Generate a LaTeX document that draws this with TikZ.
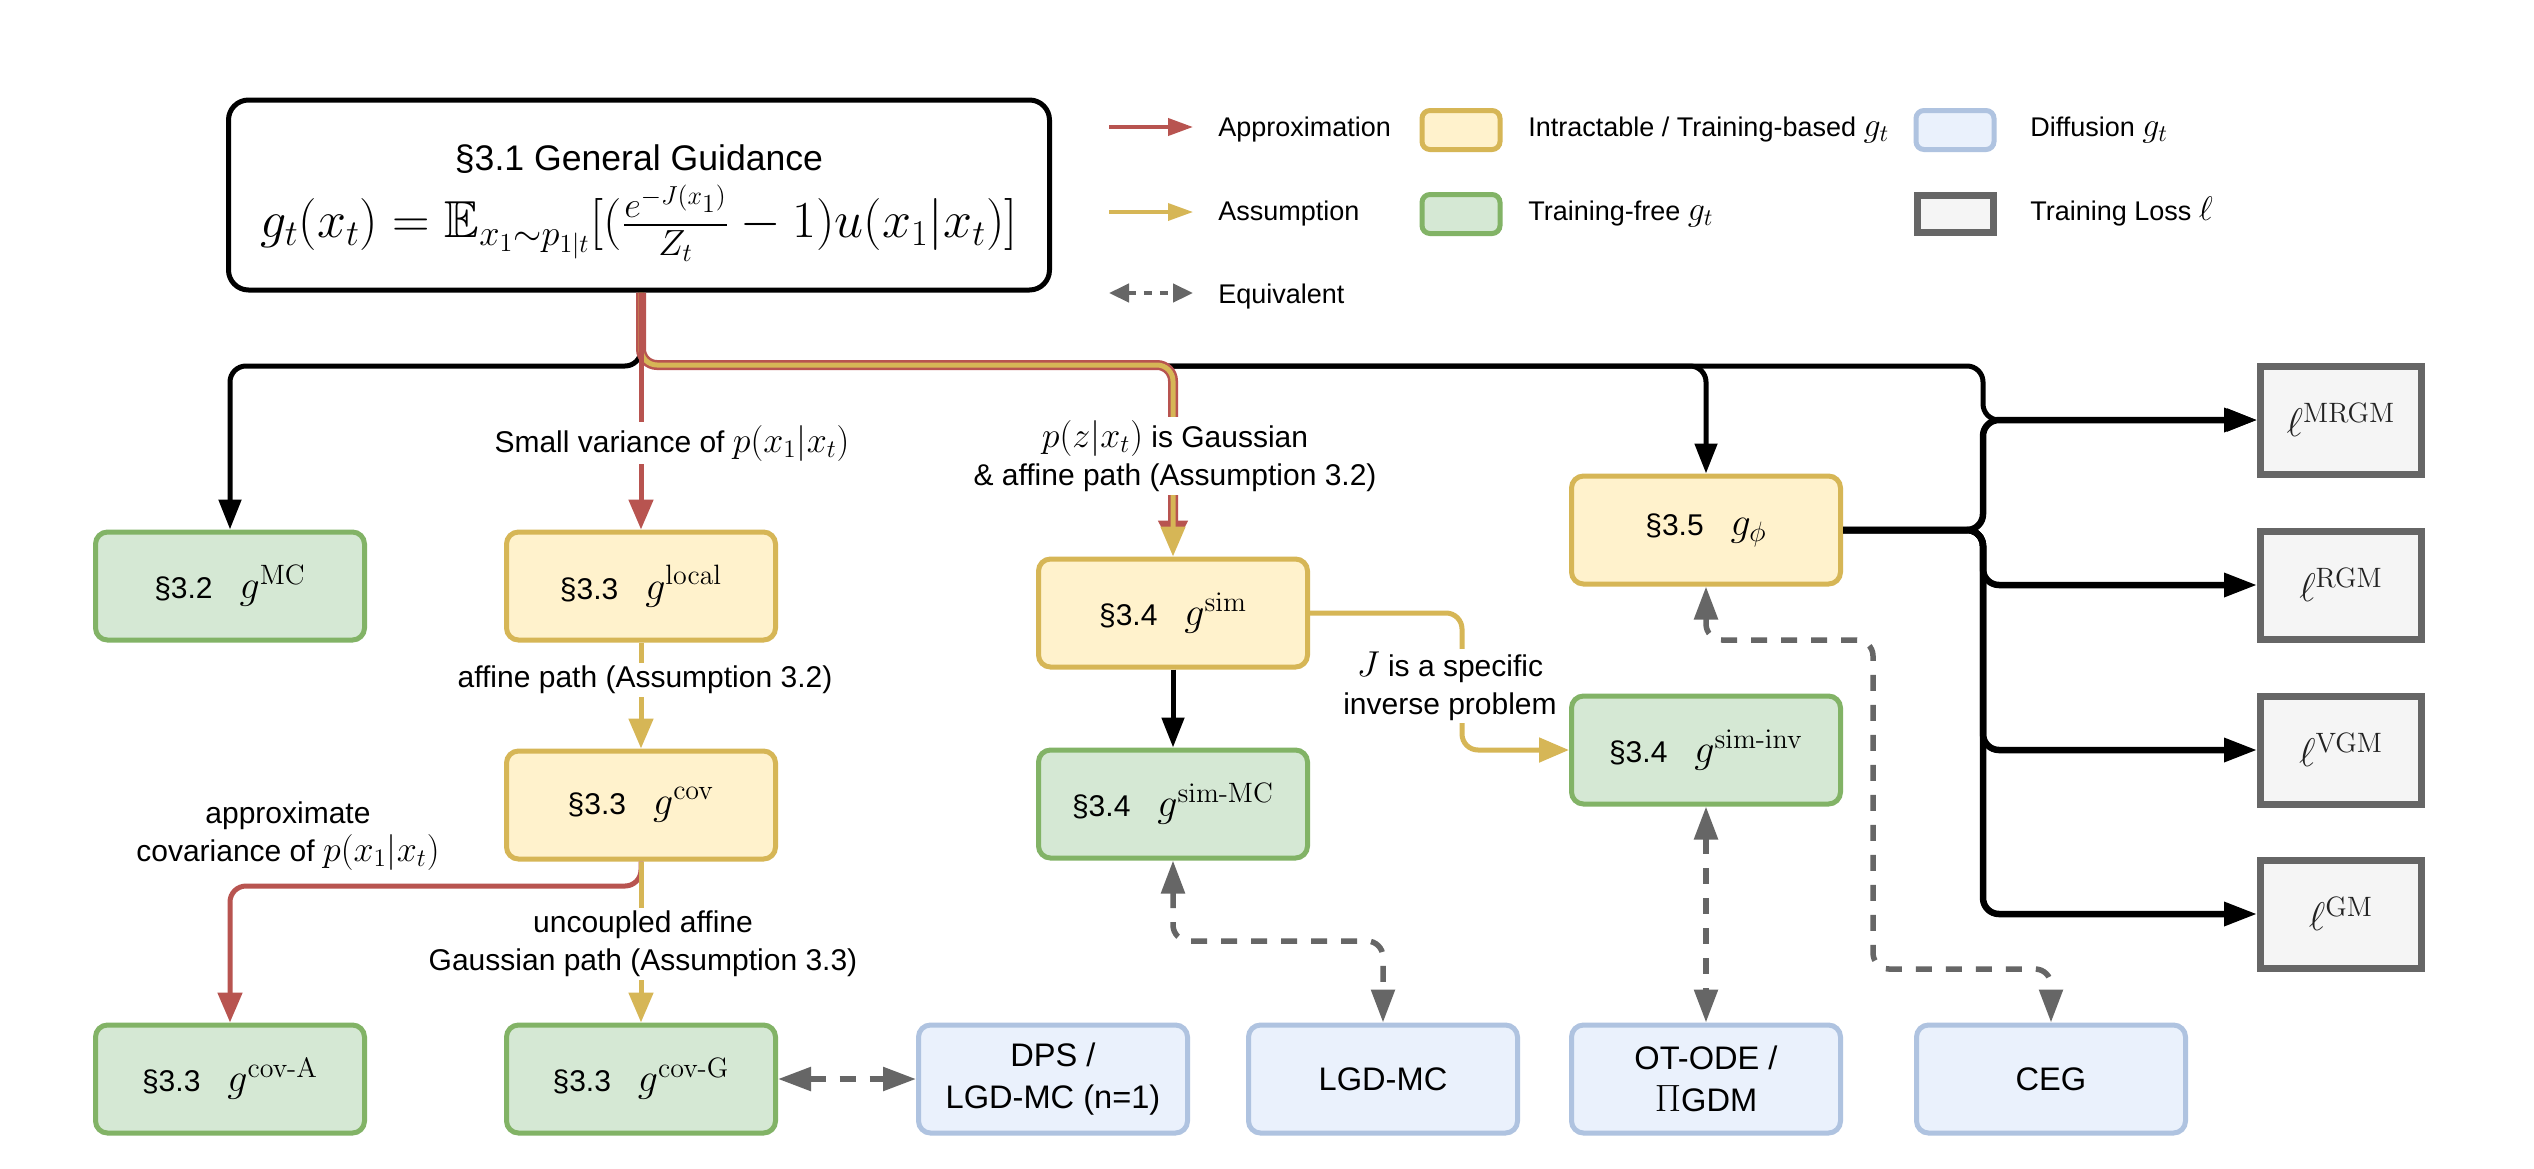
\RequirePackage{fix-cm}
\documentclass[tikz,border=0pt]{standalone}
\usepackage{amssymb}
\usepackage[no-math]{fontspec}
\setmainfont{Liberation Sans}
\usetikzlibrary{arrows.meta}
\definecolor{yfill}{HTML}{FFF2CC}
\definecolor{ystroke}{HTML}{D6B656}
\definecolor{gfill}{HTML}{D5E8D4}
\definecolor{gstroke}{HTML}{82B366}
\definecolor{bfill}{HTML}{EAF1FC}
\definecolor{bstroke}{HTML}{AFC3E0}
\definecolor{lfill}{HTML}{F5F5F5}
\definecolor{lstroke}{HTML}{666666}
\definecolor{redc}{HTML}{B85450}
\definecolor{eqc}{HTML}{666666}
\definecolor{ltxt}{HTML}{222222}
\newcommand{\hy}{\mathchar"2D\relax}
\newcommand{\nl}[2]{#1\hspace{0.9em}{\fontsize{20}{24}\selectfont$g^{#2}$}}
\newcommand{\nlsub}[2]{#1\hspace{0.9em}{\fontsize{20}{24}\selectfont$g_{#2}$}}
\newcommand{\lmath}[1]{{\fontsize{18}{20}\selectfont$#1$}}
\newcommand{\legm}[1]{{\fontsize{17}{20}\selectfont$#1$}}
\begin{document}
\begin{tikzpicture}[x=0.5pt,y=-0.5pt,
  base/.style={rounded corners=6pt, line width=2.5pt, minimum width=134.5pt, minimum height=54pt, inner sep=2pt, align=center, font=\fontsize{15}{18}\selectfont},
  ynode/.style={base, fill=yfill, draw=ystroke},
  gnode/.style={base, fill=gfill, draw=gstroke},
  bnode/.style={base, fill=bfill, draw=bstroke, font=\fontsize{16.3}{21}\selectfont},
  lnode/.style={line width=3.5pt, fill=lfill, draw=lstroke, minimum width=80.5pt, minimum height=54pt, inner sep=0pt, text=ltxt},
  topbox/.style={rounded corners=10pt, line width=2.5pt, draw=black, fill=white, minimum width=410.5pt, minimum height=95pt, align=center},
  yswatch/.style={rounded corners=4pt, line width=2.5pt, minimum width=39pt, minimum height=19.5pt, inner sep=0pt},
  elab/.style={fill=white, inner sep=1.5pt, align=center, font=\fontsize{15}{19}\selectfont},
  ltext/.style={font=\fontsize{13.5}{16}\selectfont, inner sep=0pt},
  blk/.style={draw=black, line width=2.5pt, rounded corners=8pt, -{Triangle[length=15pt,width=11pt]}},
  blkL/.style={blk, line width=3.25pt, -{Triangle[length=16.5pt,width=11.5pt]}},
  redarr/.style={draw=redc, line width=2.5pt, rounded corners=8pt, -{Triangle[length=15pt,width=12pt]}},
  yelarr/.style={draw=ystroke, line width=2.5pt, rounded corners=8pt, -{Triangle[length=15pt,width=12pt]}},
  eqarr/.style={draw=eqc, line width=2.75pt, rounded corners=8pt, dash pattern=on 8pt off 7pt, {Triangle[length=16.5pt,width=11.5pt]}-{Triangle[length=16.5pt,width=11.5pt]}}
]
\fill[white] (0,0) rectangle (2534,1168);
\useasboundingbox (0,0) rectangle (2534,1168);

% ---------- nodes ----------
\node[topbox] (top) at (639,195) {{\fontsize{17.8}{22}\selectfont\rule{0pt}{21pt}§3.1 General Guidance}\\[4.5pt]{\fontsize{26}{30}\selectfont $g_t(x_t)=\mathbb{E}_{x_1\sim p_{1|t}}[(\frac{e^{-J(x_1)}}{Z_t}-1)u(x_1|x_t)]$}};

\node[gnode] (gMC) at (230,586) {\nl{§3.2}{\mathrm{MC}}};
\node[ynode] (glocal) at (641,586) {\nl{§3.3}{\mathrm{local}}};
\node[ynode] (gcov) at (641,805) {\nl{§3.3}{\mathrm{cov}}};
\node[gnode] (gcovA) at (230,1079) {\nl{§3.3}{\mathrm{cov\hy A}}};
\node[gnode] (gcovG) at (641,1079) {\nl{§3.3}{\mathrm{cov\hy G}}};
\node[bnode] (DPS) at (1053,1079) {DPS /\\LGD-MC (n=1)};
\node[bnode] (LGD) at (1383,1079) {LGD-MC};
\node[bnode] (OT) at (1706,1079) {OT-ODE /\\{\fontsize{19}{21}\selectfont$\Pi$}GDM};
\node[bnode] (CEG) at (2051,1079) {CEG};
\node[ynode] (gsim) at (1173,613) {\nl{§3.4}{\mathrm{sim}}};
\node[gnode] (gsimMC) at (1173,804) {\nl{§3.4}{\mathrm{sim\hy MC}}};
\node[gnode] (gsiminv) at (1706,750) {\nl{§3.4}{\mathrm{sim\hy inv}}};
\node[ynode] (gphi) at (1706,530) {\nlsub{§3.5}{\phi}};

\node[lnode] (lMRGM) at (2341,420) {{\fontsize{20}{24}\selectfont$\ell^{\mathrm{MRGM}}$}};
\node[lnode] (lRGM) at (2341,585) {{\fontsize{20}{24}\selectfont$\ell^{\mathrm{RGM}}$}};
\node[lnode] (lVGM) at (2341,750) {{\fontsize{20}{24}\selectfont$\ell^{\mathrm{VGM}}$}};
\node[lnode] (lGM) at (2341,914) {{\fontsize{20}{24}\selectfont$\ell^{\mathrm{GM}}$}};

% ---------- helper coordinates ----------
\coordinate (j0) at (641,366);
\coordinate (jr) at (641,365);
\coordinate (bx) at (1983,366);
\coordinate (jx) at (1462,613);
\coordinate (j2) at (641,886);
\coordinate (j3) at (1173,941);
\coordinate (c1) at (1706,640);
\coordinate (c2) at (1873,969);

% ---------- black connectors ----------
\draw[blk] (top.south -| j0) -- (j0) -| (gMC.north);
\draw[blk] (top.south -| j0) -- (j0) -| (gphi.north);
\draw[blk] (top.south -| j0) -- (j0) -- (bx) |- (lMRGM.west);
\draw[blkL] (gphi.east) -- (gphi.east -| bx) |- (lMRGM.west);
\draw[blkL] (gphi.east) -- (gphi.east -| bx) |- (lRGM.west);
\draw[blkL] (gphi.east) -- (gphi.east -| bx) |- (lVGM.west);
\draw[blkL] (gphi.east) -- (gphi.east -| bx) |- (lGM.west);
\draw[blk] (gsim.south) -- (gsimMC.north);

% ---------- approximation + assumption to g^sim ----------
\draw[redarr, line width=5pt, shorten >=3pt, -{Triangle[length=15pt,width=14pt]}] (top.south -| jr) -- (jr) -| (gsim.north);
\draw[yelarr, line width=2.5pt] (top.south -| jr) -- (jr) -| (gsim.north);

% ---------- red / yellow connectors ----------
\draw[redarr] (top.south -| glocal.north) -- (glocal.north);
\draw[yelarr] (glocal.south) -- (gcov.north);
\draw[redarr] (gcov.south) -- (j2) -| (gcovA.north);
\draw[yelarr] (gcov.south) -- (gcovG.north);
\draw[yelarr] (gsim.east) -- (jx) |- (gsiminv.west);

% ---------- equivalence connectors ----------
\draw[eqarr] (gcovG.east) -- (DPS.west);
\draw[eqarr] (gsimMC.south) -- (j3) -| (LGD.north);
\draw[eqarr] (gsiminv.south) -- (OT.north);
\draw[eqarr] (gphi.south) -- (c1) -| (c2) -| (CEG.north);

% ---------- edge labels ----------
\node[elab] (lab1) at (672,443) {Small variance of \lmath{p(x_1|x_t)}};
\node[elab] (lab2) at (1175,456) {\lmath{p(z|x_t)} is Gaussian\\\& affine path (Assumption 3.2)};
\node[elab] (lab3) at (645,680) {affine path (Assumption 3.2)};
\node[elab] (lab4) at (288,836) {approximate\\covariance of \lmath{p(x_1|x_t)}};
\node[elab] (lab5) at (643,944) {uncoupled affine\\Gaussian path (Assumption 3.3)};
\node[elab] (lab6) at (1450,686) {\lmath{J} is a specific\\inverse problem};

% ---------- legend ----------
\coordinate (la1) at (1109,127); \coordinate (la2) at (1193,127);
\coordinate (lb1) at (1109,212); \coordinate (lb2) at (1193,212);
\coordinate (lc1) at (1109,293); \coordinate (lc2) at (1193,293);
\draw[draw=redc, line width=2pt, -{Triangle[length=12.5pt,width=8.5pt]}] (la1) -- (la2);
\draw[draw=ystroke, line width=1.75pt, -{Triangle[length=12.5pt,width=8.5pt]}] (lb1) -- (lb2);
\draw[draw=eqc, line width=2.25pt, dash pattern=on 4pt off 4pt, {Triangle[length=10pt,width=9pt]}-{Triangle[length=10pt,width=9pt]}] (lc1) -- (lc2);
\node[ltext, anchor=base west] (t1) at (1218,136) {Approximation};
\node[ltext, anchor=base west] (t2) at (1218,220) {Assumption};
\node[ltext, anchor=base west] (t3) at (1218,303) {Equivalent};
\node[yswatch, fill=yfill, draw=ystroke] (s1) at (1461,130) {};
\node[yswatch, fill=gfill, draw=gstroke] (s2) at (1461,214) {};
\node[yswatch, fill=bfill, draw=bstroke] (s3) at (1955,130) {};
\node[line width=3.5pt, fill=lfill, draw=lstroke, minimum width=38pt, minimum height=18.5pt, inner sep=0pt] (s4) at (1955,214) {};
\node[ltext, anchor=base west] (t4) at (1528,136) {Intractable / Training-based \legm{g_t}};
\node[ltext, anchor=base west] (t5) at (1528,220) {Training-free \legm{g_t}};
\node[ltext, anchor=base west] (t6) at (2030,136) {Diffusion \legm{g_t}};
\node[ltext, anchor=base west] (t7) at (2030,220) {Training Loss \legm{\ell}};
\end{tikzpicture}
\end{document}
